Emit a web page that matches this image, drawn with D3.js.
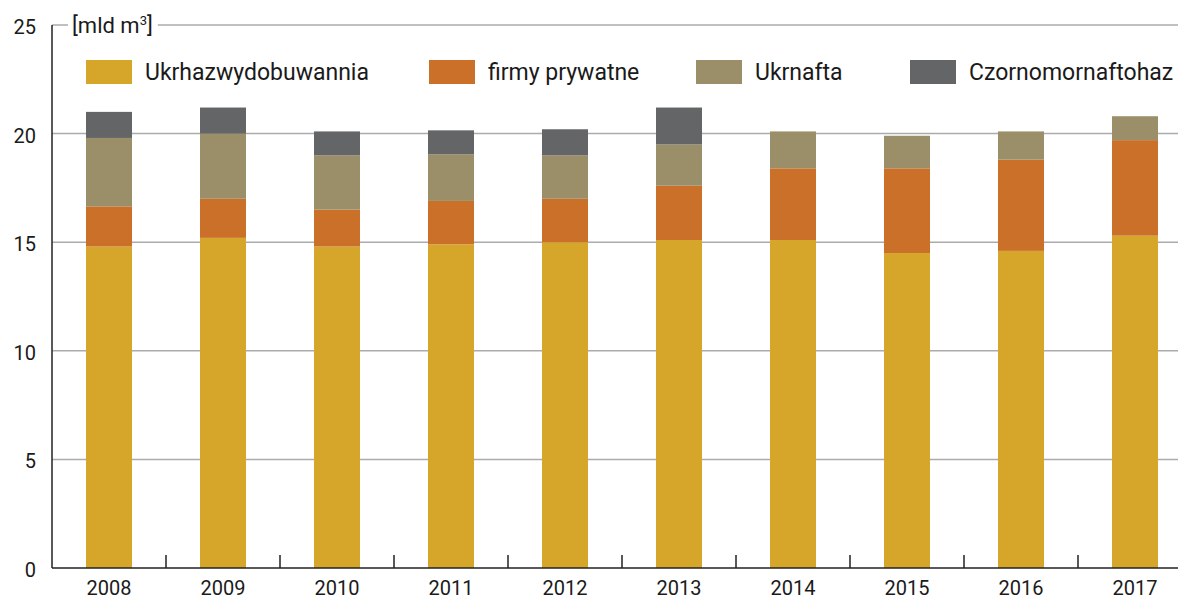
<!DOCTYPE html>
<html>
<head>
<meta charset="utf-8">
<script src="https://cdn.jsdelivr.net/npm/d3@7"></script>
<style>
	body { margin: 0; background: #fff; }
	svg { display: block; font-family: Roboto, "Noto Sans", sans-serif; }
</style>
</head>
<body>
<svg id="chart" width="1178" height="601"></svg>
<script>
(function() {
	'use strict';

	// data, mld m3
	var years = ["2008", "2009", "2010", "2011", "2012", "2013", "2014", "2015", "2016", "2017"];
	var seriesNames = ["Ukrhazwydobuwannia", "firmy prywatne", "Ukrnafta", "Czornomornaftohaz"];
	var ukrhaz = [14.8, 15.2, 14.8, 14.9, 15.0, 15.1, 15.1, 14.5, 14.6, 15.3];
	var prywatne = [1.85, 1.8, 1.7, 2.0, 2.0, 2.5, 3.3, 3.9, 4.2, 4.4];
	var ukrnafta = [3.15, 3.0, 2.5, 2.15, 2.0, 1.9, 1.7, 1.5, 1.3, 1.1];
	var czorno = [1.2, 1.2, 1.1, 1.1, 1.2, 1.7, 0, 0, 0, 0];
	var yTicks = [0, 5, 10, 15, 20, 25];
	var unitLabel = "[mld m";

	var colors = ["#D6A62A", "#CB7029", "#9A8F68", "#646566"];

	var config = {
		width: 1178,
		height: 601,
		left: 52,
		right: 1192,
		top: 25,
		bottom: 568,
		tickFont: 20,
		legendFont: 23
	};

	var rows = years.map(function(y, i){
		return {year: y, s0: ukrhaz[i], s1: prywatne[i], s2: ukrnafta[i], s3: czorno[i]};
	});
	var stack = d3.stack().keys(["s0", "s1", "s2", "s3"]);
	var layers = stack(rows);

	var x = d3.scaleBand().domain(years).range([config.left, config.right]).paddingInner(0.5965).paddingOuter(0.5965 / 2);
	var y = d3.scaleLinear().domain([0, 25]).range([config.bottom, config.top]);

	var svg = d3.select("#chart");

	/* grid lines */
	svg.append("g").selectAll("line").data(yTicks.filter(function(d){return d > 0;})).enter()
		.append("line")
		.attr("x1", config.left)
		.attr("x2", config.width)
		.attr("y1", function(d){return y(d);})
		.attr("y2", function(d){return y(d);})
		.style("stroke", "#ababab")
		.style("stroke-width", 1.5);

	/* unit label over the top grid line */
	var unit = svg.append("text")
		.attr("x", 72)
		.attr("y", y(25) + 8)
		.style("font-size", "22px")
		.style("fill", "#1a1a1a");
	unit.append("tspan").text(unitLabel);
	unit.append("tspan").attr("dy", -8).style("font-size", "13px").text("3");
	unit.append("tspan").attr("dy", 8).text("]");
	var bb = unit.node().getBBox();
	svg.insert("rect", "text")
		.attr("x", bb.x - 4)
		.attr("y", y(25) - 3)
		.attr("width", bb.width + 9)
		.attr("height", 6)
		.style("fill", "#fff");

	/* bars */
	svg.append("g").selectAll("g").data(layers).enter()
		.append("g")
		.style("fill", function(d, i){return colors[i];})
		.selectAll("rect").data(function(d){return d;}).enter()
		.append("rect")
		.attr("x", function(d){return x(d.data.year);})
		.attr("width", x.bandwidth())
		.attr("y", function(d){return y(d[1]);})
		.attr("height", function(d){return y(d[0]) - y(d[1]);});

	/* axes */
	svg.append("line")
		.attr("x1", config.left).attr("x2", config.left)
		.attr("y1", y(25)).attr("y2", y(0))
		.style("stroke", "#222").style("stroke-width", 1.5);
	svg.append("line")
		.attr("x1", config.left).attr("x2", config.width)
		.attr("y1", y(0)).attr("y2", y(0))
		.style("stroke", "#222").style("stroke-width", 1.5);

	// small ticks between years
	svg.append("g").selectAll("line").data(years.slice(0, -1)).enter()
		.append("line")
		.attr("x1", function(d){return x(d) + x.bandwidth() + (x.step() - x.bandwidth()) / 2;})
		.attr("x2", function(d){return x(d) + x.bandwidth() + (x.step() - x.bandwidth()) / 2;})
		.attr("y1", y(0))
		.attr("y2", y(0) - 13)
		.style("stroke", "#222").style("stroke-width", 1.5);

	svg.append("g").selectAll("text").data(yTicks).enter()
		.append("text")
		.attr("x", 36)
		.attr("y", function(d){return y(d) + 9;})
		.attr("text-anchor", "end")
		.style("font-size", config.tickFont + "px")
		.style("fill", "#1a1a1a")
		.text(function(d){return d;});

	svg.append("g").selectAll("text").data(years).enter()
		.append("text")
		.attr("x", function(d){return x(d) + x.bandwidth() / 2;})
		.attr("y", 595)
		.attr("text-anchor", "middle")
		.style("font-size", config.tickFont + "px")
		.style("fill", "#1a1a1a")
		.text(function(d){return d;});

	/* legend */
	var legendX = [86, 429, 696, 910];
	var legend = svg.append("g").selectAll("g").data(seriesNames).enter()
		.append("g")
		.attr("transform", function(d, i){return "translate(" + legendX[i] + ",60)";});
	legend.append("rect")
		.attr("width", 46)
		.attr("height", 24)
		.style("fill", function(d, i){return colors[i];});
	legend.append("text")
		.attr("x", 59)
		.attr("y", 20)
		.style("font-size", config.legendFont + "px")
		.style("fill", "#1a1a1a")
		.text(function(d){return d;});
})();
</script>
</body>
</html>
